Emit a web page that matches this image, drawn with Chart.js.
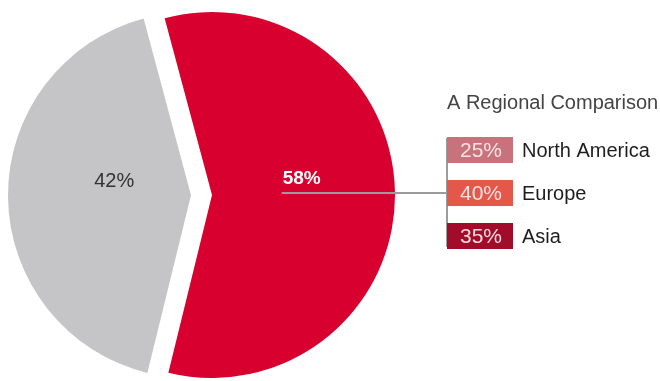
<!DOCTYPE html>
<html>
<head>
<meta charset="utf-8">
<script src="https://cdn.jsdelivr.net/npm/chart.js@4"></script>
<style>
  html, body { margin: 0; padding: 0; background: #fff; }
  canvas { display: block; }
</style>
</head>
<body>
<canvas id="canvasPie" width="660" height="381"></canvas>
<script>
// 圓餅圖資料
var shares = [58, 42];
var sliceNames = ['Share A', 'Share B'];

// 右側區域比較
var legendTitle = 'A Regional Comparison';
var regions = ['North America', 'Europe', 'Asia'];
var regionShares = [25, 40, 35];

var sliceColors = ['#d8002e', '#c5c5c7'];
var regionColors = ['#c8727b', '#e5564b', '#a00c2a'];

var FONT = '"Liberation Sans", Arial, sans-serif';

// 拉出的切片：沿中線平移，不放大半徑
var explode = {
  id: 'explode',
  beforeDatasetDraw: function (chart, args, opts) {
    var ctx = chart.ctx;
    args.meta.data.forEach(function (arc, i) {
      var mid = (arc.startAngle + arc.endAngle) / 2;
      var d = opts.shift[i] || 0;
      ctx.save();
      ctx.translate(Math.cos(mid) * d, Math.sin(mid) * d);
      arc.draw(ctx);
      ctx.restore();
    });
    return false;
  }
};

// 切片上的百分比 + 右側圖例
var pieLabels = {
  id: 'pieLabels',
  afterDatasetsDraw: function (chart, args, opts) {
    var ctx = chart.ctx;
    var arcs = chart.getDatasetMeta(0).data;
    var ds = chart.data.datasets[0];
    var shift = chart.options.plugins.explode.shift;
    var lineY = 193;
    var legendX = 447;

    ctx.save();
    ctx.textAlign = 'center';
    ctx.textBaseline = 'middle';
    arcs.forEach(function (arc, i) {
      var mid = (arc.startAngle + arc.endAngle) / 2;
      var d = (shift[i] || 0) + arc.outerRadius * opts.labelRadius[i];
      var x = arc.x + Math.cos(mid) * d;
      var y = arc.y + Math.sin(mid) * d - 15;
      ctx.font = (i === 0 ? 'bold 19px ' : '20px ') + FONT;
      ctx.fillStyle = i === 0 ? '#ffffff' : '#333333';
      ctx.fillText(ds.data[i] + '%', x, y);
      if (i === 0) {
        // 連接線
        ctx.strokeStyle = '#9c9c9c';
        ctx.lineWidth = 2;
        ctx.beginPath();
        ctx.moveTo(x - 20, lineY);
        ctx.lineTo(legendX, lineY);
        ctx.stroke();
      }
    });

    // 圖例標題
    ctx.textAlign = 'left';
    ctx.textBaseline = 'alphabetic';
    ctx.fillStyle = '#444444';
    ctx.font = '20px ' + FONT;
    ctx.fillText(legendTitle, legendX, 109);

    // 垂直線
    ctx.strokeStyle = '#9c9c9c';
    ctx.lineWidth = 2;
    ctx.beginPath();
    ctx.moveTo(legendX, 138);
    ctx.lineTo(legendX, 247);
    ctx.stroke();

    regions.forEach(function (name, i) {
      var top = 137 + i * 43;
      ctx.fillStyle = regionColors[i];
      ctx.fillRect(legendX, top, 66, 26);
      ctx.textAlign = 'center';
      ctx.textBaseline = 'middle';
      ctx.fillStyle = 'rgba(255,232,234,0.95)';
      ctx.font = '21px ' + FONT;
      ctx.fillText(regionShares[i] + '%', legendX + 34, top + 14);
      ctx.textAlign = 'left';
      ctx.fillStyle = '#1e1e1e';
      ctx.font = '20px ' + FONT;
      ctx.fillText(name, 522, top + 14);
    });
    ctx.restore();
  }
};

var ctx = document.getElementById('canvasPie').getContext('2d');
var pieChart = new Chart(ctx, {
  type: 'pie',
  data: {
    labels: sliceNames,
    datasets: [{
      data: shares,
      backgroundColor: sliceColors,
      borderWidth: 0,
      hoverOffset: 0
    }]
  },
  options: {
    responsive: false,
    animation: false,
    rotation: -15,
    radius: 183,
    layout: { padding: { left: 0, right: 236, top: 9, bottom: 0 } },
    events: [],
    plugins: {
      legend: { display: false },
      tooltip: { enabled: false },
      explode: { shift: [0, 21] },
      pieLabels: { labelRadius: [0.49, 0.42] }
    }
  },
  plugins: [explode, pieLabels]
});
</script>
</body>
</html>
